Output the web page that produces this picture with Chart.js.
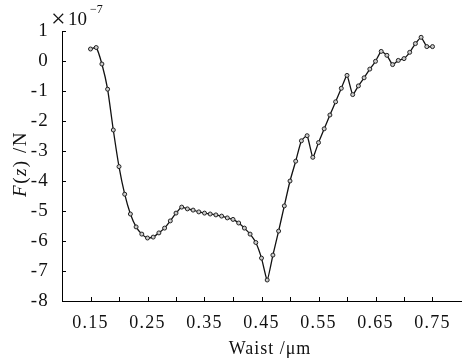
<!DOCTYPE html>
<html>
<head>
<meta charset="utf-8">
<script src="https://cdn.jsdelivr.net/npm/chart.js@4"></script>
<style>
  html, body { margin: 0; padding: 0; background: #fff; overflow: hidden; }
  #wrap { width: 466px; height: 362px; }
</style>
</head>
<body>
<div id="wrap"><canvas id="chart" width="466" height="362"></canvas></div>
<script>
// Waist (um) and force F(z) in units of 1e-7 N
const waist = [
  0.15, 0.16, 0.17, 0.18, 0.19, 0.20, 0.21, 0.22, 0.23, 0.24,
  0.25, 0.26, 0.27, 0.28, 0.29, 0.30, 0.31, 0.32, 0.33, 0.34,
  0.35, 0.36, 0.37, 0.38, 0.39, 0.40, 0.41, 0.42, 0.43, 0.44,
  0.45, 0.46, 0.47, 0.48, 0.49, 0.50, 0.51, 0.52, 0.53, 0.54,
  0.55, 0.56, 0.57, 0.58, 0.59, 0.60, 0.61, 0.62, 0.63, 0.64,
  0.65, 0.66, 0.67, 0.68, 0.69, 0.70, 0.71, 0.72, 0.73, 0.74, 0.75
];
const force = [
  0.40, 0.45, -0.10, -0.94, -2.30, -3.52, -4.44, -5.10, -5.53, -5.77,
  -5.90, -5.87, -5.73, -5.57, -5.33, -5.07, -4.87, -4.93, -4.97, -5.03,
  -5.07, -5.10, -5.13, -5.17, -5.23, -5.28, -5.40, -5.57, -5.77, -6.05,
  -6.57, -7.30, -6.47, -5.67, -4.83, -4.00, -3.34, -2.66, -2.49, -3.21,
  -2.72, -2.26, -1.80, -1.36, -0.91, -0.48, -1.12, -0.83, -0.56, -0.27,
  -0.01, 0.32, 0.19, -0.12, 0.02, 0.08, 0.29, 0.58, 0.79, 0.48, 0.48
];
const xLabels = ['0.15', '0.25', '0.35', '0.45', '0.55', '0.65', '0.75'];

const serif = '"Liberation Serif", "DejaVu Serif", serif';

// the scanned figure has loosely spaced type
const spacing = {
  id: 'spacing',
  beforeUpdate(chart) { chart.ctx.letterSpacing = '1.2px'; },
  beforeDraw(chart) { chart.ctx.letterSpacing = '1.2px'; }
};

// inward tick marks plus the axis titles
const decorations = {
  id: 'decorations',
  afterDraw(chart) {
    const { ctx, chartArea } = chart;
    const xs = chart.scales.x, ys = chart.scales.y;
    ctx.save();
    ctx.strokeStyle = '#000';
    ctx.lineWidth = 1;
    ctx.beginPath();
    for (let v = -8; v <= 1; v++) {
      const y = Math.round(ys.getPixelForValue(v)) + 0.5;
      ctx.moveTo(chartArea.left, y);
      ctx.lineTo(chartArea.left + 4, y);
    }
    for (let i = 3; i <= 15; i++) {
      const x = Math.round(xs.getPixelForValue(i * 0.05)) + 0.5;
      ctx.moveTo(x, chartArea.bottom);
      ctx.lineTo(x, chartArea.bottom - 4);
    }
    ctx.stroke();

    ctx.fillStyle = '#111';
    ctx.textBaseline = 'middle';
    ctx.letterSpacing = '1px';

    // x title
    ctx.font = '18px ' + serif;
    ctx.textAlign = 'center';
    ctx.fillText('Waist /\u03bcm', 270, 349);

    // multiplier
    ctx.letterSpacing = '0px';
    ctx.textAlign = 'left';
    ctx.font = '26px ' + serif;
    ctx.fillText('\u00d7', 51, 20);
    ctx.font = '19px ' + serif;
    ctx.fillText('10', 68, 20);
    ctx.font = '12px ' + serif;
    ctx.fillText('\u22127', 90, 10);

    // y title, rotated, with italic F and z
    ctx.letterSpacing = '1.5px';
    ctx.translate(21, 164);
    ctx.rotate(-Math.PI / 2);
    const parts = [
      ['F', 'italic 19px '], ['(', '19px '], ['z', 'italic 19px '], [') /N', '19px ']
    ];
    let total = 0;
    parts.forEach(p => { ctx.font = p[1] + serif; total += ctx.measureText(p[0]).width; });
    let px = -total / 2;
    parts.forEach(p => {
      ctx.font = p[1] + serif;
      ctx.fillText(p[0], px, 0);
      px += ctx.measureText(p[0]).width;
    });
    ctx.restore();
  }
};

new Chart(document.getElementById('chart'), {
  type: 'line',
  data: {
    datasets: [{
      data: waist.map((w, i) => ({ x: w, y: force[i] })),
      borderColor: '#111',
      borderWidth: 1.3,
      pointRadius: 2,
      pointBorderWidth: 1,
      pointBorderColor: '#222',
      pointBackgroundColor: '#ccc',
      tension: 0.15,
      fill: false
    }]
  },
  options: {
    responsive: false,
    animation: false,
    layout: { padding: { top: 31, right: 1, left: 0, bottom: 0 } },
    plugins: { legend: { display: false }, tooltip: { enabled: false } },
    scales: {
      x: {
        type: 'linear',
        min: 0.1,
        max: 0.8,
        afterFit(scale) { scale.height = 61; },
        afterBuildTicks(scale) {
          scale.ticks = xLabels.map(v => ({ value: parseFloat(v) }));
        },
        grid: { display: true, drawOnChartArea: false, drawTicks: false },
        border: { display: true, color: '#000', width: 1 },
        ticks: {
          padding: 11,
          color: '#111',
          font: { family: serif, size: 18 },
          maxRotation: 0,
          autoSkip: false,
          callback: v => v.toFixed(2)
        }
      },
      y: {
        min: -8,
        max: 1,
        afterFit(scale) { scale.width = 62; },
        grid: { display: true, drawOnChartArea: false, drawTicks: false },
        border: { display: true, color: '#000', width: 1 },
        ticks: {
          stepSize: 1,
          padding: 13,
          color: '#111',
          font: { family: serif, size: 19 },
          callback: v => String(v)
        }
      }
    }
  },
  plugins: [spacing, decorations]
});
</script>
</body>
</html>
